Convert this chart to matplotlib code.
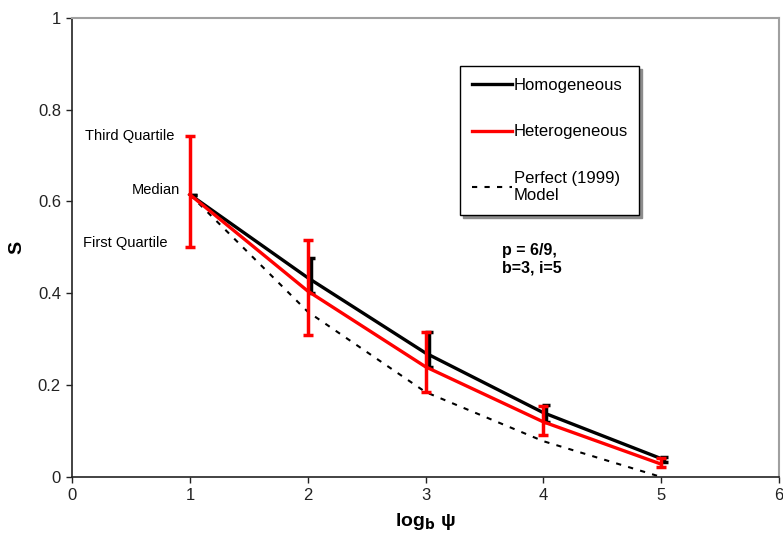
import matplotlib
matplotlib.use("Agg")
import matplotlib.pyplot as plt
import matplotlib.transforms as mtransforms
import numpy as np

plt.rcParams['font.family'] = ['Liberation Sans', 'DejaVu Sans']

# data
x = [1, 2, 3, 4, 5]
homog = [0.615, 0.434, 0.27, 0.14, 0.04]
homog_lo = [0.615, 0.40, 0.24, 0.12, 0.033]
homog_hi = [0.615, 0.477, 0.316, 0.157, 0.044]
heterog = [0.615, 0.405, 0.24, 0.12, 0.028]
heterog_lo = [0.50, 0.309, 0.185, 0.092, 0.022]
heterog_hi = [0.743, 0.516, 0.316, 0.155, 0.041]
perfect = [0.615, 0.36, 0.185, 0.078, 0.0]

fig = plt.figure(figsize=(7.83, 5.39), dpi=100)
ax = fig.add_axes([0.092, 0.115, 0.903, 0.852])

# black error bars sit a few pixels right of the red ones
shift = mtransforms.ScaledTranslation(3/100, 0, fig.dpi_scale_trans)
h_err = [np.array(homog) - np.array(homog_lo), np.array(homog_hi) - np.array(homog)]
eb = ax.errorbar(x, homog, yerr=h_err, fmt='none', ecolor='black', elinewidth=2.5,
                 capsize=3, capthick=2.5, zorder=2)
for art in list(eb.lines[1]) + list(eb.lines[2]):
    art.set_transform(art.get_transform() + shift)

ax.plot(x, perfect, color='black', lw=1.5, linestyle=(0, (2.5, 3.5)), zorder=1,
        label='Perfect (1999)\nModel')
ax.plot(x, homog, color='black', lw=2.4, zorder=3, label='Homogeneous')
ax.plot(x, heterog, color='#ff0000', lw=2.4, zorder=4, label='Heterogeneous')

r_err = [np.array(heterog) - np.array(heterog_lo), np.array(heterog_hi) - np.array(heterog)]
ax.errorbar(x, heterog, yerr=r_err, fmt='none', ecolor='#ff0000', elinewidth=2.5,
            capsize=3.5, capthick=2.5, zorder=5)

ax.set_xlim(0, 6)
ax.set_ylim(0, 1)
ax.set_xticks(range(0, 7))
ax.set_yticks([0, 0.2, 0.4, 0.6, 0.8, 1])
ax.set_yticklabels(['0', '0.2', '0.4', '0.6', '0.8', '1'])
ax.tick_params(direction='out', length=4, width=1, labelsize=12, pad=4, colors='#222222')

for s in ['left', 'bottom']:
    ax.spines[s].set_color('#222222')
    ax.spines[s].set_linewidth(1.2)
for s in ['top', 'right']:
    ax.spines[s].set_color('#a0a0a0')
    ax.spines[s].set_linewidth(1.5)

ax.set_xlabel(r'log$_\mathbf{b}$ ψ', fontsize=14, fontweight='bold', labelpad=6)
ax.set_ylabel('S', fontsize=14, fontweight='bold', labelpad=9)

# quartile annotations
ax.text(0.87, heterog_hi[0], 'Third Quartile', fontsize=10.5, ha='right', va='center')
ax.text(0.92, heterog[0] + 0.01, 'Median', fontsize=10.5, ha='right', va='center')
ax.text(0.81, heterog_lo[0] + 0.01, 'First Quartile', fontsize=10.5, ha='right', va='center')

ax.text(3.65, 0.51, 'p = 6/9,\nb=3, i=5', fontsize=11.5, fontweight='bold',
        ha='left', va='top', linespacing=1.25)

handles, labels = ax.get_legend_handles_labels()
order = [1, 2, 0]
leg = ax.legend([handles[i] for i in order], [labels[i] for i in order],
                loc='upper left', bbox_to_anchor=(0.549, 0.895), borderaxespad=0,
                fontsize=12, frameon=True, fancybox=False, edgecolor='black',
                shadow={'color': '0.55', 'alpha': 1}, labelspacing=1.9,
                handlelength=2.4, handletextpad=0.1, borderpad=0.7)
leg.get_frame().set_linewidth(1.0)

fig.savefig('out.png', dpi=100)
